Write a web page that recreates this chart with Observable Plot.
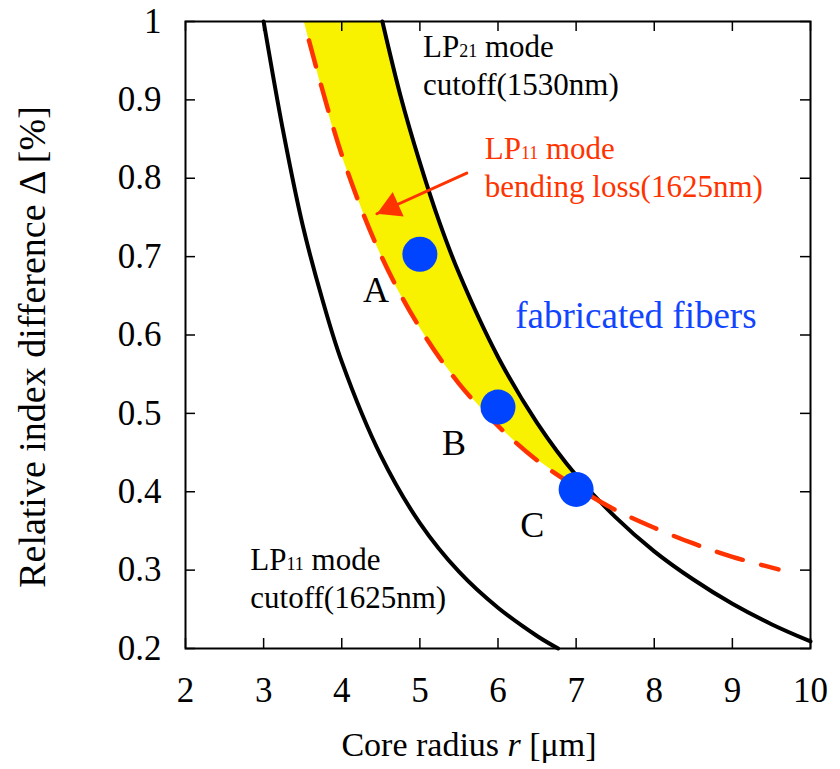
<!DOCTYPE html>
<html><head><meta charset="utf-8">
<script src="https://cdn.jsdelivr.net/npm/d3@7"></script>
<script src="https://cdn.jsdelivr.net/npm/@observablehq/plot@0.6"></script>
<style>html,body{margin:0;padding:0;background:#fff;}</style>
</head><body><div id="chart"></div>
<script>
// ---- data ----
const xTicks = [2, 3, 4, 5, 6, 7, 8, 9, 10];
const xTickLabels = ["2", "3", "4", "5", "6", "7", "8", "9", "10"];
const yTicks = [0.2, 0.3, 0.4, 0.5, 0.6, 0.7, 0.8, 0.9, 1.0];
const yTickLabels = ["0.2", "0.3", "0.4", "0.5", "0.6", "0.7", "0.8", "0.9", "1"];
const xTitle = "Core radius r [μm]";
const yTitle = "Relative index difference Δ [%]";

// LP11 mode cutoff (1625 nm)
const lp11CutR = [3.0, 3.25, 3.5, 3.75, 4.0, 4.5, 5.0, 5.5, 6.0, 6.5, 6.77];
const lp11CutD = [1.0, 0.860, 0.740, 0.646, 0.566, 0.446, 0.360, 0.298, 0.252, 0.216, 0.200];

// LP21 mode cutoff (1530 nm)
const lp21CutR = [4.52, 4.75, 5.0, 5.25, 5.5, 6.0, 6.5, 7.0, 7.5, 8.0, 8.5, 9.0, 9.5, 10.0];
const lp21CutD = [1.0, 0.906, 0.820, 0.744, 0.679, 0.572, 0.488, 0.421, 0.368, 0.324, 0.288, 0.257, 0.231, 0.209];

// LP11 mode bending loss (1625 nm)
const bendR = [3.58, 4.0, 4.5, 5.0, 5.5, 6.0, 6.5, 7.0, 7.5, 8.0, 8.5, 9.0, 9.59];
const bendD = [0.976, 0.830, 0.702, 0.609, 0.538, 0.484, 0.440, 0.406, 0.377, 0.354, 0.334, 0.317, 0.301];

// yellow design window (between bending-loss curve and LP21 cutoff)
const bandD = [1.00, 0.95, 0.90, 0.85, 0.80, 0.75, 0.70, 0.65, 0.60, 0.55, 0.50, 0.45, 0.42, 0.40, 0.388];
const bandLeft = [3.52, 3.65, 3.785, 3.93, 4.107, 4.30, 4.51, 4.76, 5.06, 5.41, 5.85, 6.38, 6.80, 7.10, 7.29];
const bandRight = [4.52, 4.642, 4.767, 4.913, 5.066, 5.23, 5.42, 5.623, 5.86, 6.12, 6.42, 6.774, 7.01, 7.19, 7.29];

// fabricated fibers
const fiberNames = ["A", "B", "C"];
const fiberR = [5.0, 6.0, 7.0];
const fiberD = [0.703, 0.508, 0.403];

// annotations
const noteText = ["LP21 mode\ncutoff(1530nm)", "LP11 mode\nbending loss(1625nm)", "LP11 mode\ncutoff(1625nm)", "fabricated fibers"];
const noteR = [5.04, 5.83, 2.83, 6.22];
const noteD = [0.906, 0.7755, 0.2513, 0.6084];
const noteColor = ["#000000", "#ff3300", "#000000", "#1144ff"];
const noteSize = [31, 31, 31, 37];

const arrowR1 = [5.60], arrowD1 = [0.8065], arrowR2 = [4.45], arrowD2 = [0.7547];

// ---- build tables ----
const zip = (a, b) => a.map((v, i) => ({x: v, y: b[i]}));
const lp11 = zip(lp11CutR, lp11CutD);
const lp21 = zip(lp21CutR, lp21CutD);
const bend = zip(bendR, bendD);
const band = bandD.map((d, i) => ({d, l: bandLeft[i], r: bandRight[i]}));
const fibers = fiberNames.map((n, i) => ({n, x: fiberR[i], y: fiberD[i]}));
const notes = noteText.map((t, i) => ({t, x: noteR[i], y: noteD[i], c: noteColor[i], s: noteSize[i]}));
const arrows = arrowR1.map((v, i) => ({x1: v, y1: arrowD1[i], x2: arrowR2[i], y2: arrowD2[i]}));

const RED = "#ff3300", BLUE = "#0044ff", YELLOW = "#f8f200";
const W = 840, H = 769, ML = 185, MR = 30, MT = 21, MB = 121;
const FW = W - ML - MR, FH = H - MT - MB;

const chart = Plot.plot({
  width: W, height: H,
  marginLeft: ML, marginRight: MR, marginTop: MT, marginBottom: MB,
  style: {fontFamily: "'Liberation Serif', 'Times New Roman', serif", fontSize: "35px", background: "#fff", color: "#000"},
  x: {domain: [2, 10], ticks: xTicks, tickSize: 0, tickPadding: 29, label: null,
      tickFormat: d => xTickLabels[xTicks.indexOf(d)]},
  y: {domain: [0.2, 1.0], ticks: yTicks, tickSize: 0, tickPadding: 24, label: null,
      tickFormat: d => yTickLabels[yTicks.indexOf(d)]},
  marks: [
    Plot.areaX(band, {y: "d", x1: "l", x2: "r", fill: YELLOW, curve: "catmull-rom"}),
    Plot.line(lp11, {x: "x", y: "y", stroke: "#000", strokeWidth: 4, curve: "catmull-rom"}),
    Plot.line(lp21, {x: "x", y: "y", stroke: "#000", strokeWidth: 4, curve: "catmull-rom"}),
    Plot.line(bend, {x: "x", y: "y", stroke: RED, strokeWidth: 4.5, strokeDasharray: "27,19", curve: "catmull-rom"}),
    Plot.arrow(arrows, {x1: "x1", y1: "y1", x2: "x2", y2: "y2", stroke: RED, strokeWidth: 3, headLength: 0}),
    Plot.dot(arrows, {x: "x2", y: "y2", symbol: "triangle", r: 10, fill: RED, stroke: "none", rotate: -114, dx: 14.2, dy: -6.4}),
    Plot.dot(fibers, {x: "x", y: "y", r: 17.5, fill: BLUE, stroke: "none"}),
    Plot.text(fibers, {x: "x", y: "y", text: "n", dx: -44, dy: 36, fontSize: 36, fill: "#000"}),
    Plot.text(notes, {x: "x", y: "y", text: "t", fill: "c", fontSize: "s", textAnchor: "start", lineAnchor: "bottom", lineHeight: 1.226}),
    Plot.text([xTitle], {text: d => d, frameAnchor: "bottom", textAnchor: "middle", dx: -29, dy: 107, fontSize: 34, lineAnchor: "bottom", fill: "#000"}),
    Plot.text([yTitle], {text: d => d, frameAnchor: "left", textAnchor: "middle", rotate: -90, dx: 44 - ML, dy: 12, fontSize: 38, lineAnchor: "bottom", fill: "#000"}),
    Plot.frame({stroke: "#000", strokeWidth: 2}),
    Plot.tickX(xTicks, {x: d => d, stroke: "#000", strokeWidth: 1.5, insetTop: FH - 10}),
    Plot.tickX(xTicks, {x: d => d, stroke: "#000", strokeWidth: 1.5, insetBottom: FH - 10}),
    Plot.tickY(yTicks, {y: d => d, stroke: "#000", strokeWidth: 1.5, insetRight: FW - 10}),
    Plot.tickY(yTicks, {y: d => d, stroke: "#000", strokeWidth: 1.5, insetLeft: FW - 10})
  ]
});

// subscripts in "LPxx" and italic "r" in axis title
const NS = "http://www.w3.org/2000/svg";
chart.querySelectorAll("text").forEach(t => {
  const tsp = t.querySelectorAll("tspan");
  const nodes = tsp.length ? Array.from(tsp) : [t];
  nodes.forEach(n => {
    const s = n.textContent;
    let m = s.match(/^(.*?LP)(\d\d)(.*)$/);
    if (m) {
      n.textContent = "";
      n.append(m[1]);
      const sub = document.createElementNS(NS, "tspan");
      sub.setAttribute("font-size", "0.58em");
      sub.textContent = m[2];
      n.append(sub);
      n.append(m[3]);
      return;
    }
    m = s.match(/^(Core radius )(r)( .*)$/);
    if (m) {
      n.textContent = "";
      n.append(m[1]);
      const it = document.createElementNS(NS, "tspan");
      it.setAttribute("font-style", "italic");
      it.textContent = m[2];
      n.append(it);
      n.append(m[3]);
    }
  });
});

document.getElementById("chart").appendChild(chart);
</script>
</body></html>
